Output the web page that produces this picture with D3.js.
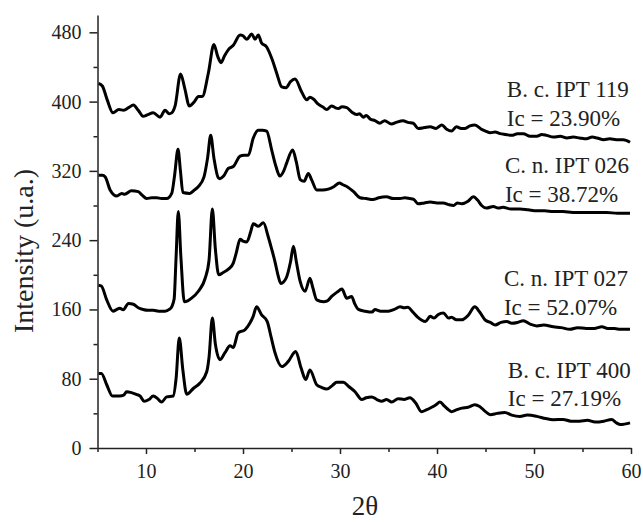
<!DOCTYPE html>
<html>
<head>
<meta charset="utf-8">
<script src="https://cdn.jsdelivr.net/npm/d3@7"></script>
<style>
  body { margin: 0; background: #fff; }
  svg { display: block; font-family: "Liberation Serif", "Times New Roman", serif; }
</style>
</head>
<body>
<script>

// diffractograms, [2theta, intensity]
var bc119 = [[5.1,421],[5.5,418],[6.0,402],[6.6,387],[7.2,391],[7.7,390],[8.2,393],[8.7,396],[9.2,390],[9.7,383],[10.2,385],[10.75,387],[11.45,382],[11.96,390],[12.4,386],[12.65,387],[13.0,395],[13.57,432],[14.0,415],[14.47,395],[15.0,400],[15.4,406],[15.8,406],[16.43,433],[17.0,466],[17.4,452],[17.73,445],[18.1,453],[18.5,460],[19.0,465],[19.7,477],[20.0,476],[20.4,472],[20.9,478],[21.24,472],[21.58,477],[21.9,468],[22.44,463],[22.96,450],[23.5,432],[23.99,417],[24.43,416],[24.9,423],[25.36,426],[26.05,411],[26.57,402],[26.9,405],[27.25,403],[27.76,397],[28.2,394],[28.63,391],[29.14,395],[29.5,393],[29.83,392],[30.2,394],[30.7,393],[31.2,388],[31.72,385],[32.0,386],[32.4,382],[32.7,384],[33.1,380],[33.6,378],[34.1,375],[34.6,378],[35.3,374],[35.8,376],[36.5,378],[37.0,376],[37.55,375],[38.07,369],[38.7,370],[39.3,371],[39.9,369],[40.5,373],[41.0,368],[41.5,366],[42.0,371],[42.5,369],[42.9,369],[43.4,372],[43.9,373],[44.6,368],[45.0,366],[45.5,364],[46.0,365],[46.5,363],[47.1,362],[47.7,361],[48.3,363],[48.9,363],[49.6,360],[50.3,360],[50.8,362],[51.3,361],[52.0,359],[52.7,360],[53.4,358],[54.05,359],[54.7,358],[55.4,357],[56.0,359],[56.5,358],[57.2,356],[57.8,357],[58.5,356],[59.2,356],[59.9,353]];

var cn026 = [[5.1,315],[5.5,315],[5.8,313],[6.3,298],[7.0,291],[7.5,294],[7.8,293],[8.5,297],[9.2,296],[9.6,292],[10.07,288],[10.6,289],[11.1,289],[11.6,288],[12.13,288],[12.65,294],[12.95,315],[13.3,345],[13.55,320],[13.8,295],[14.5,294],[15.0,298],[15.4,302],[15.98,313],[16.35,335],[16.67,361],[17.0,335],[17.45,312],[17.63,311],[18.0,314],[18.5,323],[19.0,325],[19.7,337],[20.1,338],[20.55,338],[21.06,358],[21.58,367],[22.0,367],[22.44,366],[22.96,344],[23.4,325],[23.8,314],[24.2,320],[24.5,329],[25.12,344],[25.5,330],[25.9,310],[26.3,308],[26.73,317],[27.1,309],[27.6,298],[28.2,298],[28.8,299],[29.4,302],[29.93,306],[30.3,304],[30.7,302],[31.4,296],[32.06,289],[32.7,288],[33.4,287],[34.0,289],[34.8,290],[35.5,288],[36.2,288],[36.7,289],[37.2,288],[37.6,287],[38.07,282],[38.7,283],[39.3,284],[40.0,283],[40.65,283],[41.2,281],[41.7,280],[42.1,283],[42.55,282],[43.2,285],[43.74,290],[44.2,286],[44.6,280],[45.1,277],[45.8,279],[46.3,277],[46.8,278],[47.6,276],[48.55,276],[49.4,275],[50.3,274],[51.1,274],[52.0,273],[53.0,273],[54.0,272],[55.4,272],[56.5,272],[57.5,272],[58.6,271],[59.9,271]];

var cn027 = [[5.1,188],[5.4,187],[5.95,171],[6.6,158],[7.0,160],[7.3,161.5],[7.65,159.6],[8.2,167],[8.7,166],[9.2,162],[9.7,160],[10.2,159],[10.75,159],[11.3,158],[11.96,158],[12.4,160],[12.65,163],[12.9,172],[13.1,220],[13.33,273],[13.6,220],[13.95,169],[14.3,170],[14.7,173],[15.4,181],[16.1,196],[16.5,217],[16.84,276],[17.15,230],[17.5,200],[18.0,203],[18.5,206.5],[19.0,213.5],[19.3,225],[19.7,241],[20.0,239],[20.4,238],[20.8,250],[21.06,259],[21.58,256],[22.1,260],[22.6,244],[22.95,230],[23.3,215],[23.6,200],[23.9,190],[24.2,192],[24.5,197.5],[24.9,215],[25.2,233],[25.5,215],[25.9,192],[26.4,181],[26.9,196],[27.2,185],[27.6,171],[28.3,169],[28.7,170],[29.14,175],[29.7,180],[30.2,183.5],[30.7,173],[31.2,175],[31.5,167],[31.9,160],[32.6,158],[33.3,157],[33.6,160],[34.2,158],[35.0,158],[35.6,160],[36.2,163],[36.6,162],[37.0,162.6],[37.5,157],[38.0,151],[38.8,146],[39.3,152],[39.7,150],[40.1,154],[40.65,156],[41.2,150],[41.5,151],[42.0,148],[42.55,148],[43.2,153],[43.9,163],[44.4,157],[44.95,148],[45.5,145],[46.0,142],[46.6,145],[47.2,146],[47.7,144],[48.3,145],[48.9,147],[49.6,143],[50.3,141],[51.0,142],[52.0,140],[52.8,139],[53.7,137],[54.5,139],[55.4,138],[56.2,138],[57.0,140],[57.6,138],[58.3,138],[58.9,137],[59.9,137]];

var bc400 = [[5.1,86],[5.4,86],[5.95,73],[6.55,60],[7.3,60],[7.7,61],[8.0,65],[8.5,64],[9.0,62],[9.4,60],[9.8,54],[10.3,56],[10.75,60],[11.2,57],[11.6,53],[12.13,59],[12.8,60],[13.1,80],[13.43,127],[13.8,90],[14.2,62],[14.9,69],[15.57,75],[16.26,88],[16.5,105],[16.84,150],[17.15,120],[17.63,102],[18.14,110],[18.66,118],[19.0,116],[19.5,133],[20.2,136.5],[20.7,144],[21.05,152],[21.4,163],[21.9,154],[22.5,146],[22.9,128],[23.3,110],[24.0,94],[24.67,100],[25.43,111.5],[26.0,92],[26.46,79],[26.9,90],[27.6,73],[28.1,70],[28.63,68],[29.2,72],[29.66,76],[30.34,76],[30.9,71],[31.55,65],[32.24,56],[32.7,58],[33.27,59],[33.8,56],[34.3,54],[34.8,56],[35.33,53],[36.0,57],[36.6,56],[37.2,58],[37.8,52],[38.4,42],[38.9,44],[39.45,47],[39.9,50],[40.3,53],[40.8,48],[41.2,44],[41.5,42],[42.0,44],[42.55,46],[43.2,47],[43.9,50],[44.4,48],[45.0,42],[45.5,38.5],[46.2,40],[47.0,41],[47.7,38],[48.55,36.5],[49.3,38],[50.3,36.5],[51.2,34],[52.0,32.7],[53.0,33],[53.8,31],[54.7,31],[55.5,32],[56.3,30],[57.2,31],[58.0,33],[58.5,29],[58.9,27],[59.9,29]];

var series = [bc119, cn026, cn027, bc400];

var sampleNames = ["B. c. IPT 119", "C. n. IPT 026", "C. n. IPT 027", "B. c. IPT 400"];
var crystallinity = ["Ic = 23.90%", "Ic = 38.72%", "Ic = 52.07%", "Ic = 27.19%"];
var labelX = [47.2, 47.0, 46.9, 47.3];
var labelY = [405, 317, 186.5, 81];

var xTicks = [10, 20, 30, 40, 50, 60];
var xMinor = [5, 15, 25, 35, 45, 55];
var yTicks = [0, 80, 160, 240, 320, 400, 480];
var yMinor = [40, 120, 200, 280, 360, 440];

var margin = {top: 15, right: 12, bottom: 74, left: 97.5},
    width = 643 - margin.left - margin.right,
    height = 522 - margin.top - margin.bottom;

var x = d3.scaleLinear().domain([5, 60]).range([0, width]);
var y = d3.scaleLinear().domain([0, 500]).range([height, 0]);

var svg = d3.select("body").append("svg")
    .attr("width", 643)
    .attr("height", 522)
  .append("g")
    .attr("transform", "translate(" + margin.left + "," + margin.top + ")");

var line = d3.line()
    .x(function(d) { return x(d[0]); })
    .y(function(d) { return y(d[1]); })
    .curve(d3.curveMonotoneX);

svg.selectAll(".trace")
    .data(series)
  .enter().append("path")
    .attr("class", "trace")
    .attr("d", line)
    .attr("fill", "none")
    .attr("stroke", "#000")
    .attr("stroke-width", 3)
    .attr("stroke-linejoin", "round");

// axes
var xAxis = svg.append("g")
    .attr("transform", "translate(0," + height + ")")
    .call(d3.axisBottom(x).tickValues(xTicks).tickSize(6).tickPadding(10).tickSizeOuter(0));
svg.append("g")
    .attr("transform", "translate(0," + height + ")")
    .call(d3.axisBottom(x).tickValues(xMinor).tickSize(4).tickFormat("").tickSizeOuter(0))
    .select(".domain").remove();

var yAxis = svg.append("g")
    .call(d3.axisLeft(y).tickValues(yTicks).tickSize(8).tickPadding(8).tickSizeOuter(0));
svg.append("g")
    .call(d3.axisLeft(y).tickValues(yMinor).tickSize(4).tickFormat("").tickSizeOuter(0))
    .select(".domain").remove();

svg.selectAll(".domain, .tick line")
    .attr("stroke", "#222")
    .attr("stroke-width", 1.5);

svg.selectAll(".tick text")
    .attr("font-family", "Liberation Serif")
    .attr("font-size", "20px")
    .attr("fill", "#222");

// sample labels
var labels = svg.selectAll(".lbl")
    .data(sampleNames)
  .enter().append("text")
    .attr("class", "lbl")
    .attr("x", function(d, i) { return x(labelX[i]); })
    .attr("y", function(d, i) { return y(labelY[i]); })
    .attr("font-size", "23px")
    .attr("fill", "#222");
labels.append("tspan")
    .text(function(d) { return d; });
labels.append("tspan")
    .attr("x", function(d, i) { return x(labelX[i]); })
    .attr("dy", 28.5)
    .text(function(d, i) { return crystallinity[i]; });

// axis titles
svg.append("text")
    .attr("transform", "translate(" + (33 - margin.left) + "," + (251 - margin.top) + ") rotate(-90)")
    .style("text-anchor", "middle")
    .attr("font-size", "28px")
    .attr("fill", "#222")
    .text("Intensity (u.a.)");

svg.append("text")
    .attr("x", 365 - margin.left)
    .attr("y", 515 - margin.top)
    .style("text-anchor", "middle")
    .attr("font-size", "27px")
    .attr("fill", "#222")
    .text("2θ");

</script>
</body>
</html>
